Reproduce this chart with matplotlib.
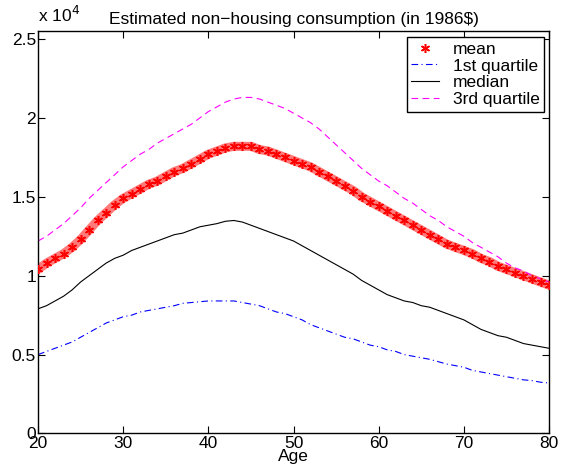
import matplotlib
matplotlib.use("Agg")
import matplotlib.pyplot as plt
from matplotlib.ticker import FixedLocator, FuncFormatter

plt.rcParams["font.family"] = ["Liberation Sans", "DejaVu Sans"]

# Estimated non-housing consumption by age (1986 dollars)
age = list(range(20, 81))

mean_c = [10400, 10800, 11100, 11400, 11800, 12300, 12900, 13500, 14000, 14500,
          14900, 15200, 15500, 15800, 16000, 16300, 16600, 16800, 17100, 17400,
          17700, 17900, 18100, 18200, 18200, 18200, 18000, 17900, 17700, 17500,
          17300, 17100, 16900, 16600, 16300, 16000, 15700, 15400, 15000, 14700,
          14400, 14100, 13800, 13500, 13200, 12900, 12600, 12300, 12000, 11800,
          11600, 11400, 11100, 10900, 10600, 10400, 10200, 10000, 9800, 9600,
          9400]

q1_c = [5000, 5200, 5400, 5600, 5800, 6100, 6400, 6700, 7000, 7200,
        7400, 7500, 7700, 7800, 7900, 8000, 8100, 8250, 8300, 8350,
        8400, 8400, 8400, 8400, 8300, 8200, 8100, 7900, 7700, 7600,
        7400, 7200, 6900, 6700, 6500, 6300, 6100, 6000, 5800, 5600,
        5500, 5300, 5200, 5000, 4900, 4800, 4700, 4550, 4400, 4300,
        4200, 4000, 3900, 3800, 3700, 3600, 3500, 3400, 3350, 3250,
        3200]

median_c = [7900, 8100, 8400, 8700, 9100, 9600, 10000, 10400, 10800, 11100,
            11300, 11600, 11800, 12000, 12200, 12400, 12600, 12700, 12900, 13100,
            13200, 13300, 13450, 13500, 13400, 13200, 13000, 12800, 12600, 12400,
            12200, 11900, 11600, 11300, 11000, 10700, 10400, 10100, 9700, 9400,
            9100, 8800, 8600, 8400, 8300, 8100, 8000, 7800, 7600, 7400,
            7200, 6900, 6600, 6400, 6200, 6100, 5900, 5700, 5600, 5500,
            5400]

q3_c = [12200, 12500, 12900, 13300, 13800, 14300, 14900, 15400, 15900, 16400,
        16900, 17300, 17700, 18000, 18400, 18700, 19000, 19300, 19600, 20000,
        20400, 20700, 21000, 21200, 21300, 21300, 21200, 21000, 20800, 20600,
        20300, 20000, 19700, 19300, 18800, 18300, 17800, 17300, 16800, 16400,
        16000, 15700, 15300, 14900, 14600, 14200, 13800, 13500, 13100, 12800,
        12500, 12100, 11800, 11500, 11200, 10800, 10500, 10300, 10000, 9800,
        9600]

STAR = (6, 2, 0)
DASHDOT = (0, (6, 3, 1, 3))
DASHED = (0, (6, 4))

fig = plt.figure(figsize=(5.70, 4.72), dpi=100)
ax = fig.add_axes([0.0667, 0.0816, 0.8965, 0.8524])

# mean: red asterisks packed along a soft band
ax.plot(age, mean_c, color="#ff5a5a", linewidth=6.5, solid_capstyle="round",
        solid_joinstyle="round", alpha=0.8, zorder=2)
ax.plot(age, mean_c, linestyle="none", marker=STAR, markersize=6.5,
        markeredgewidth=1.1, color="red", zorder=3)
ax.plot(age, q1_c, color="blue", linewidth=0.8, linestyle=DASHDOT, zorder=2)
ax.plot(age, median_c, color="black", linewidth=0.8, zorder=2)
ax.plot(age, q3_c, color="magenta", linewidth=0.8, linestyle=DASHED, zorder=2)

ax.set_xlim(20, 80)
ax.set_ylim(0, 25500)
ax.xaxis.set_major_locator(FixedLocator([20, 30, 40, 50, 60, 70, 80]))
ax.yaxis.set_major_locator(FixedLocator([0, 5000, 10000, 15000, 20000, 25000]))
ax.yaxis.set_major_formatter(FuncFormatter(lambda v, p: f"{v / 1e4:g}"))
ax.tick_params(direction="in", length=5, width=0.8, top=True, right=True,
               labelsize=12.5, pad=1.5)
for sp in ax.spines.values():
    sp.set_linewidth(1.0)

ax.set_xlabel("Age", fontsize=12.5, labelpad=-1)
ax.set_title("Estimated non\u2212housing consumption (in 1986$)", fontsize=12.5, pad=5)
fig.text(0.0667, 0.948, r"x 10$^{4}$", fontsize=12.5, ha="left", va="bottom")

handles = [
    plt.Line2D([], [], linestyle="none", marker=STAR, markersize=6.5,
               markeredgewidth=1.1, color="red"),
    plt.Line2D([], [], color="blue", linewidth=0.8, linestyle=DASHDOT),
    plt.Line2D([], [], color="black", linewidth=0.8),
    plt.Line2D([], [], color="magenta", linewidth=0.8, linestyle=DASHED),
]
leg = ax.legend(handles, ["mean", "1st quartile", "median", "3rd quartile"],
                loc="upper right", bbox_to_anchor=(0.99, 0.985), fontsize=12.5,
                fancybox=False, framealpha=1, edgecolor="black",
                handlelength=1.6, labelspacing=0.1, borderpad=0.25,
                handletextpad=0.8, borderaxespad=0)
leg.get_frame().set_linewidth(1.0)

fig.savefig("out.png", dpi=100)
